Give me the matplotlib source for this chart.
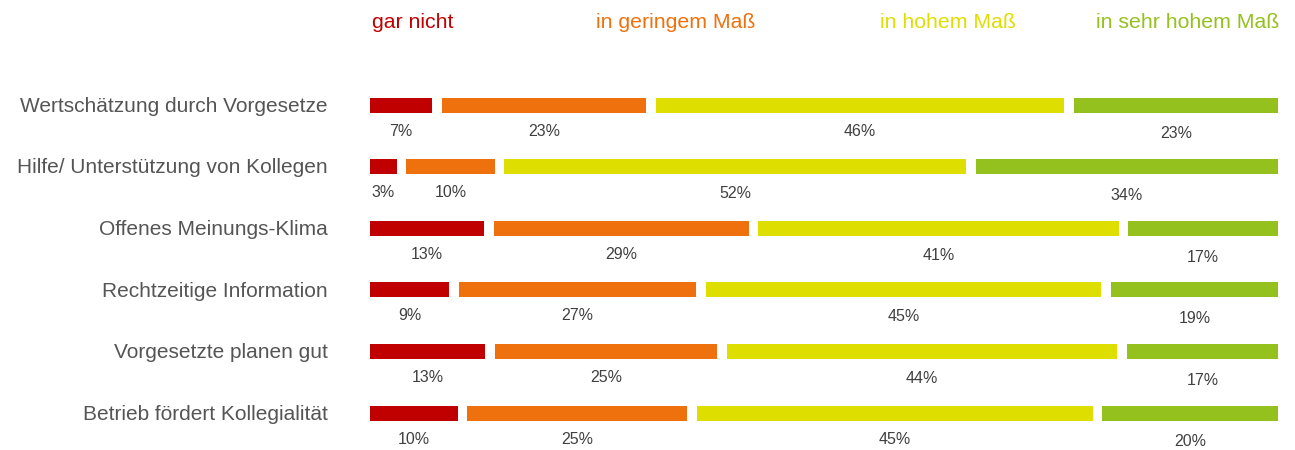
import matplotlib
matplotlib.use("Agg")
import matplotlib.pyplot as plt
from matplotlib import font_manager
import matplotlib.transforms as mtransforms

categories = [
    "Wertschätzung durch Vorgesetze",
    "Hilfe/ Unterstützung von Kollegen",
    "Offenes Meinungs-Klima",
    "Rechtzeitige Information",
    "Vorgesetzte planen gut",
    "Betrieb fördert Kollegialität",
]
series_names = ["gar nicht", "in geringem Maß", "in hohem Maß", "in sehr hohem Maß"]
gar_nicht = [7, 3, 13, 9, 13, 10]
geringem = [23, 10, 29, 27, 25, 25]
hohem = [46, 52, 41, 45, 44, 45]
sehr_hohem = [23, 34, 17, 19, 17, 20]

colors = ["#C00000", "#EF710E", "#DEDE00", "#95C11F"]

names = {f.name for f in font_manager.fontManager.ttflist}
fam = "Liberation Sans Narrow" if "Liberation Sans Narrow" in names else "Liberation Sans"
plt.rcParams["font.family"] = [fam, "DejaVu Sans"]

W, H = 1295, 450
fig = plt.figure(figsize=(W / 100, H / 100), dpi=100)
x0, x1 = 370, 1278
ax = fig.add_axes([x0 / W, 0, (x1 - x0) / W, 1])
row_px = 61.6
top_px = 105
ax.set_ylim(5 + (H - (top_px + 5 * row_px)) / row_px, -top_px / row_px)
ax.set_xlim(0, 100)
ax.axis("off")

bar_h = 15 / row_px
gap = 9.5 / (x1 - x0) * 100  # gap in data units
series = [gar_nicht, geringem, hohem, sehr_hohem]
label_dy = [0, 0, 1, 3]

for r in range(len(categories)):
    vals = [s[r] for s in series]
    total = sum(vals)
    scale = (100 - 3 * gap) / total
    left = 0.0
    for i, v in enumerate(vals):
        w = v * scale
        ax.barh(r, w, left=left, height=bar_h, color=colors[i], edgecolor="none")
        tr = mtransforms.offset_copy(ax.transData, fig=fig, x=0, y=-(26 + label_dy[i]), units="dots")
        ax.text(left + w / 2, r, f"{v}%", transform=tr, ha="center", va="center",
                fontsize=11.5, color="#404040")
        left += w + gap
    ax.text((328 - x0) / (x1 - x0), r + 0.02, categories[r], transform=ax.get_yaxis_transform(),
            ha="right", va="center", fontsize=15, color="#555555")

header_centers = [413, 676, 948, 1188]
for name, cx, c in zip(series_names, header_centers, colors):
    fig.text(cx / W, 1 - 23 / H, name, ha="center", va="center", fontsize=15.3, color=c)

fig.savefig("out.png", dpi=100)
